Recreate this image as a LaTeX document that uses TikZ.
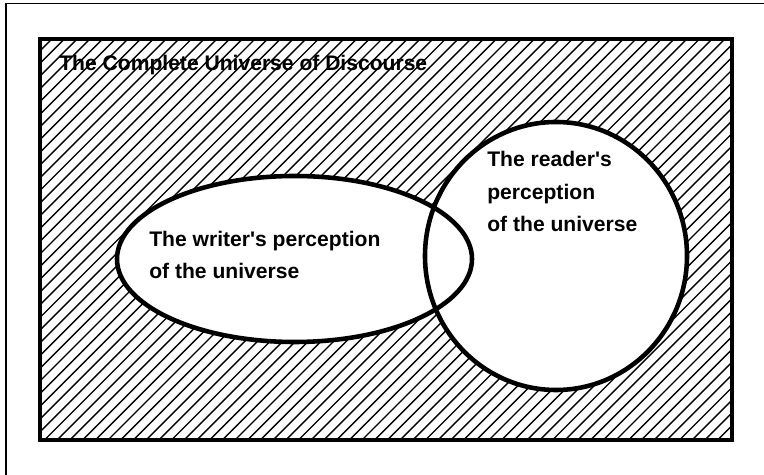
\documentclass[tikz,border=0pt]{standalone}
\usepackage{fontspec}
\setsansfont{Liberation Sans}
\usetikzlibrary{positioning}

\begin{document}
\begin{tikzpicture}[x=0.02cm,y=-0.02cm,
    lbl/.style={font=\sffamily\bfseries\fontsize{12}{18.5}\selectfont,inner sep=0pt,align=left,anchor=base west},
    rim/.style={line width=2.6pt}]
    \useasboundingbox (0,0) rectangle (764,475);
    \draw[line width=1.1pt] (6,475) -- (6,3.5) -- (764,3.5);
    % hatched universe
    \begin{scope}
      \clip (40,39) rectangle (732,440);
      \foreach \k in {-400,-387.3,...,740} \draw[line width=0.8pt] (\k,440) -- ++(401,-401);
    \end{scope}
    \draw[line width=2.8pt] (40,39) rectangle (732,440);
    \fill[white] (294.5,259) ellipse [x radius=177.5,y radius=83];
    \fill[white] (556,256) ellipse [x radius=131,y radius=134];
    \draw[rim] (294.5,259) ellipse [x radius=177.5,y radius=83];
    \draw[rim] (556,256) ellipse [x radius=131,y radius=134];
    % base anchor sits on the last line
    \node[lbl] (title) at (59,71) {The Complete Universe of Discourse};
    \node[lbl] (writer) at (149,279) {The writer\textquotesingle s perception\\of the universe};
    \node[lbl] (reader) at (487,232) {The reader\textquotesingle s\\perception\\of the universe};
\end{tikzpicture}
\end{document}
